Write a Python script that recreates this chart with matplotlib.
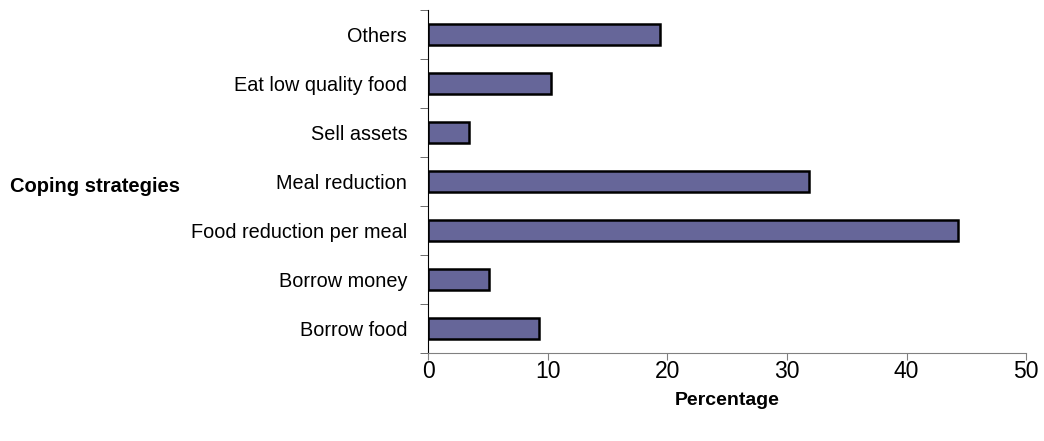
import numpy as np
import matplotlib.pyplot as plt

# ==============================================================================
# Data
#
strategies = ['Borrow food', 'Borrow money', 'Food reduction per meal',
              'Meal reduction', 'Sell assets', 'Eat low quality food', 'Others']
percentages = [9.3, 5.1, 44.3, 31.8, 3.4, 10.3, 19.4]
x_ticks = [0, 10, 20, 30, 40, 50]

BAR_COLOR = '#666699'
plt.rcParams['font.family'] = ['Liberation Sans', 'DejaVu Sans']

# ==============================================================================
# Plot
#
fig = plt.figure(figsize=(10.44, 4.41), dpi=100)
ax = fig.add_axes([0.41, 0.2, 0.573, 0.777])

y = np.arange(len(strategies))
ax.barh(y, percentages, height=0.42, color=BAR_COLOR,
        edgecolor='black', linewidth=1.8)

ax.set_xlim(0, 50)
ax.set_ylim(-0.5, len(strategies) - 0.5)
ax.set_xticks(x_ticks)
ax.set_xticklabels([str(t) for t in x_ticks], fontsize=16.5)
ax.set_yticks(y)
ax.set_yticklabels(strategies, fontsize=14.3)
                                                   # ticks between categories
ax.set_yticks(np.arange(len(strategies) + 1) - 0.5, minor=True)
ax.tick_params(axis='y', which='major', length=0, pad=15)
ax.tick_params(axis='y', which='minor', length=6, direction='out',
               color='#555555')
ax.tick_params(axis='x', length=5, direction='out', color='#808080', pad=0)

for side in ['top', 'right']:
    ax.spines[side].set_visible(False)
ax.spines['left'].set_color('black')
ax.spines['bottom'].set_color('#808080')

ax.set_xlabel('Percentage', fontsize=14, fontweight='bold', labelpad=7)
fig.text(10/1044, 1 - 186/441, 'Coping strategies', fontsize=14.5,
         fontweight='bold', ha='left', va='center')

fig.savefig('out.png', dpi=100)
